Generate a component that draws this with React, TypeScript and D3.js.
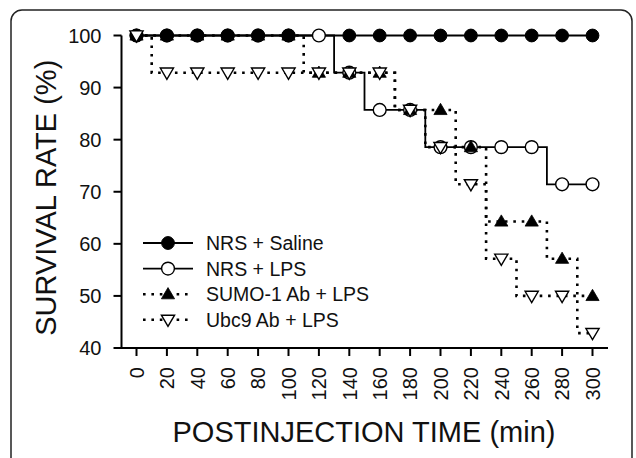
import React from "react";
import * as d3 from "d3";

const times = [0, 20, 40, 60, 80, 100, 120, 140, 160, 180, 200, 220, 240, 260, 280, 300];
const salineTimes = [0, 20, 40, 60, 80, 100, 140, 160, 180, 200, 220, 240, 260, 280, 300];
const salineValues = [100, 100, 100, 100, 100, 100, 100, 100, 100, 100, 100, 100, 100, 100, 100];
const lpsValues = [100, 100, 100, 100, 100, 100, 100, 92.86, 85.71, 85.71, 78.57, 78.57, 78.57, 78.57, 71.43, 71.43];
const sumoValues = [100, 100, 100, 100, 100, 100, 92.86, 92.86, 92.86, 85.71, 85.71, 78.57, 64.29, 64.29, 57.14, 50];
const ubc9Values = [100, 92.86, 92.86, 92.86, 92.86, 92.86, 92.86, 92.86, 92.86, 85.71, 78.57, 71.43, 57.14, 50, 50, 42.86];
const yTicks = [40, 50, 60, 70, 80, 90, 100];
const legendLabels = ["NRS + Saline", "NRS + LPS", "SUMO-1 Ab + LPS", "Ubc9 Ab + LPS"];

const FONT = "'Liberation Sans', Arial, Helvetica, sans-serif";

type Kind = "filledCircle" | "openCircle" | "filledTri" | "openTriDown";

function Marker({ kind, x, y }: { kind: Kind; x: number; y: number }) {
  if (kind === "filledCircle") return <circle cx={x} cy={y} r={6.4} fill="#000" stroke="#000" strokeWidth={1} />;
  if (kind === "openCircle") return <circle cx={x} cy={y} r={6.4} fill="#fff" stroke="#000" strokeWidth={1.4} />;
  const s = 6.6;
  if (kind === "filledTri") {
    const p = `${x},${y - s} ${x + s},${y + s * 0.7} ${x - s},${y + s * 0.7}`;
    return <polygon points={p} fill="#000" stroke="#000" strokeWidth={0.8} />;
  }
  const p = `${x - s},${y - s * 0.7} ${x + s},${y - s * 0.7} ${x},${y + s}`;
  return <polygon points={p} fill="#fff" stroke="#000" strokeWidth={1.4} />;
}

export default function App() {
  const width = 636;
  const height = 458;
  const x = d3.scaleLinear().domain([0, 300]).range([136.5, 592.5]);
  const y = d3.scaleLinear().domain([40, 100]).range([348, 35.5]);
  const axisX0 = 121.5;
  const axisXEnd = 608;

  const line = d3
    .line<[number, number]>()
    .x((d) => x(d[0]))
    .y((d) => y(d[1]))
    .curve(d3.curveStep);

  const series: { t: number[]; v: number[]; kind: Kind; dotted: boolean }[] = [
    { t: times, v: lpsValues, kind: "openCircle", dotted: false },
    { t: salineTimes, v: salineValues, kind: "filledCircle", dotted: false },
    { t: times, v: sumoValues, kind: "filledTri", dotted: true },
    { t: times, v: ubc9Values, kind: "openTriDown", dotted: true },
  ];
  const legendKinds: Kind[] = ["filledCircle", "openCircle", "filledTri", "openTriDown"];
  const legendDotted = [false, false, true, true];

  const dash = "2.6 5.8";

  return (
    <svg width={width} height={height} style={{ position: "absolute", left: 0, top: 0, background: "#fff" }}>
      <rect x={11} y={10} width={621} height={470} rx={11} fill="#fff" stroke="#222" strokeWidth={1.5} />
      {/* axes */}
      <line x1={axisX0} y1={y(100)} x2={axisX0} y2={y(40)} stroke="#000" strokeWidth={2} />
      <line x1={axisX0 - 1} y1={y(40)} x2={axisXEnd} y2={y(40)} stroke="#000" strokeWidth={2} />
      {yTicks.map((t) => (
        <g key={t}>
          <line x1={axisX0 - 8} x2={axisX0} y1={y(t)} y2={y(t)} stroke="#000" strokeWidth={2} />
          <text x={axisX0 - 20} y={y(t)} dy="0.36em" textAnchor="end" fontFamily={FONT} fontSize={20} fill="#111">
            {t}
          </text>
        </g>
      ))}
      {times.map((t) => (
        <g key={t}>
          <line x1={x(t)} x2={x(t)} y1={y(40)} y2={y(40) + 8} stroke="#000" strokeWidth={2} />
          <text
            transform={`translate(${x(t)},${y(40) + 19}) rotate(-90)`}
            dy="0.36em"
            textAnchor="end"
            fontFamily={FONT}
            fontSize={20}
            fill="#111"
          >
            {t}
          </text>
        </g>
      ))}
      <text
        transform={`translate(56,${(y(100) + y(40)) / 2 + 6}) rotate(-90)`}
        textAnchor="middle"
        fontFamily={FONT}
        fontSize={29}
        fill="#111"
      >
        SURVIVAL RATE (%)
      </text>
      <text x={364} y={442} textAnchor="middle" fontFamily={FONT} fontSize={29} fill="#111">
        POSTINJECTION TIME (min)
      </text>
      {/* lines */}
      {series.map((s, i) => (
        <path
          key={"l" + i}
          d={line(s.t.map((t, j) => [t, s.v[j]] as [number, number])) || ""}
          fill="none"
          stroke="#000"
          strokeWidth={s.dotted ? 2.6 : 1.8}
          strokeDasharray={s.dotted ? dash : undefined}
        />
      ))}
      {series.map((s, i) => (
        <g key={"m" + i}>
          {s.t.map((t, j) => (
            <Marker key={j} kind={s.kind} x={x(t)} y={y(s.v[j])} />
          ))}
        </g>
      ))}
      {/* legend */}
      {legendLabels.map((lab, i) => {
        const ly = 243 + i * 25.6;
        return (
          <g key={lab}>
            <line
              x1={143}
              x2={193}
              y1={ly}
              y2={ly}
              stroke="#000"
              strokeWidth={legendDotted[i] ? 2.6 : 1.8}
              strokeDasharray={legendDotted[i] ? dash : undefined}
            />
            <Marker kind={legendKinds[i]} x={168} y={ly} />
            <text x={206} y={ly} dy="0.36em" fontFamily={FONT} fontSize={19.5} fill="#111">
              {lab}
            </text>
          </g>
        );
      })}
    </svg>
  );
}
